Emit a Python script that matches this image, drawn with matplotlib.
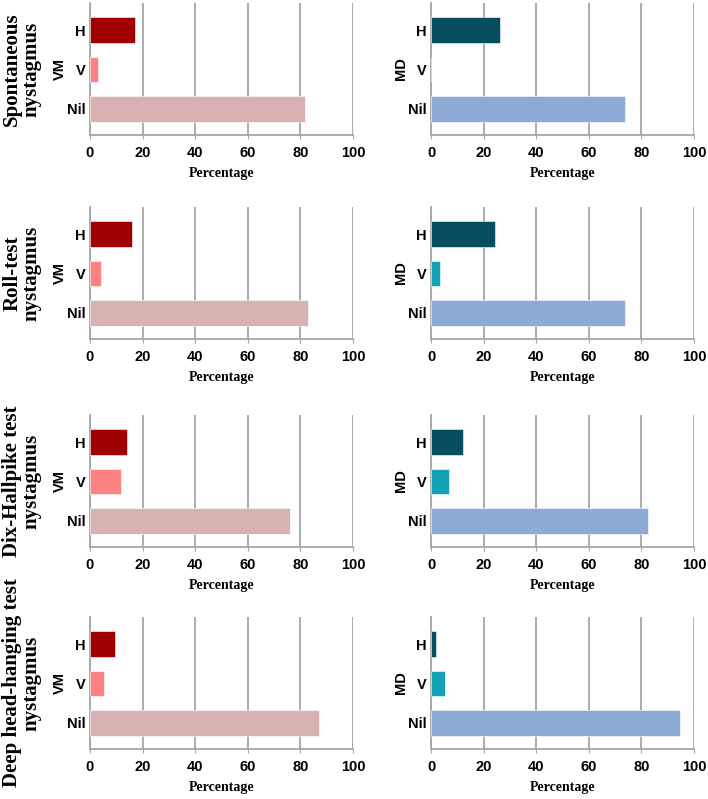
import matplotlib
matplotlib.use('Agg')
import matplotlib.pyplot as plt

# data
categories = ['Nil', 'V', 'H']
row_titles = ['Spontaneous\nnystagmus', 'Roll-test\nnystagmus',
              'Dix-Hallpike test\nnystagmus', 'Deep head-hanging test\nnystagmus']

# values in order Nil, V, H
vm_values = [
    [81.6, 3.2, 17.1],
    [82.9, 4.2, 16.1],
    [76.1, 11.6, 13.9],
    [87.1, 5.3, 9.6],
]
md_values = [
    [73.8, 0.0, 26.1],
    [73.8, 3.4, 24.5],
    [82.4, 7.0, 12.1],
    [94.7, 5.3, 1.8],
]
xticks = [0, 20, 40, 60, 80, 100]

vm_colors = ['#D8B1B1', '#FF8282', '#A00000']
md_colors = ['#8DAAD6', '#14A0B5', '#064D5F']

W, H = 708, 799
fig = plt.figure(figsize=(W / 100, H / 100), dpi=100)

grid_col = '#A6A6A6'
sans = ['Liberation Sans', 'DejaVu Sans']
serif = ['Liberation Serif', 'DejaVu Serif']

axes_top = [3, 207, 415, 617]
ax_h = 132
col_left = [90, 431]
ax_w = 263


def px_axes(left, top, width, height):
    return fig.add_axes([left / W, 1 - (top + height) / H, width / W, height / H])


def draw_panel(ax, vals, colors, label):
    ax.barh(range(len(categories)), vals, height=0.655, color=colors,
            edgecolor='white', linewidth=0.4, zorder=3)
    ax.set_xlim(0, 100)
    ax.set_ylim(-0.67, 2.69)
    ax.set_xticks(xticks)
    ax.set_yticks(range(len(categories)))
    ax.set_yticklabels(categories)
    for t in ax.get_xticklabels() + ax.get_yticklabels():
        t.set_fontfamily(sans)
        t.set_fontweight('bold')
        t.set_fontsize(10.5)
    ax.tick_params(axis='x', length=3, color=grid_col, pad=5)
    ax.tick_params(axis='y', length=0, pad=3)
    ax.grid(axis='x', color=grid_col, linewidth=1.3, zorder=0)
    for s in ['top', 'right']:
        ax.spines[s].set_visible(False)
    for s in ['left', 'bottom']:
        ax.spines[s].set_color(grid_col)
        ax.spines[s].set_linewidth(1.3)
    ax.set_xlabel('Percentage', fontfamily=serif, fontweight='bold',
                  fontsize=10, labelpad=5)
    ax.set_ylabel(label, fontfamily=sans, fontweight='bold', fontsize=10.5,
                  labelpad=0.5)


for i in range(4):
    ax_l = px_axes(col_left[0], axes_top[i], ax_w, ax_h)
    draw_panel(ax_l, vm_values[i], vm_colors, 'VM')
    ax_r = px_axes(col_left[1], axes_top[i], ax_w, ax_h)
    draw_panel(ax_r, md_values[i], md_colors, 'MD')

    yc = 1 - (axes_top[i] + ax_h / 2) / H
    fig.text(22 / W, yc, row_titles[i], rotation=90, ha='center', va='center',
             fontfamily=serif, fontweight='bold', fontsize=15,
             linespacing=0.95, multialignment='center')

fig.savefig('out.png', dpi=100)
